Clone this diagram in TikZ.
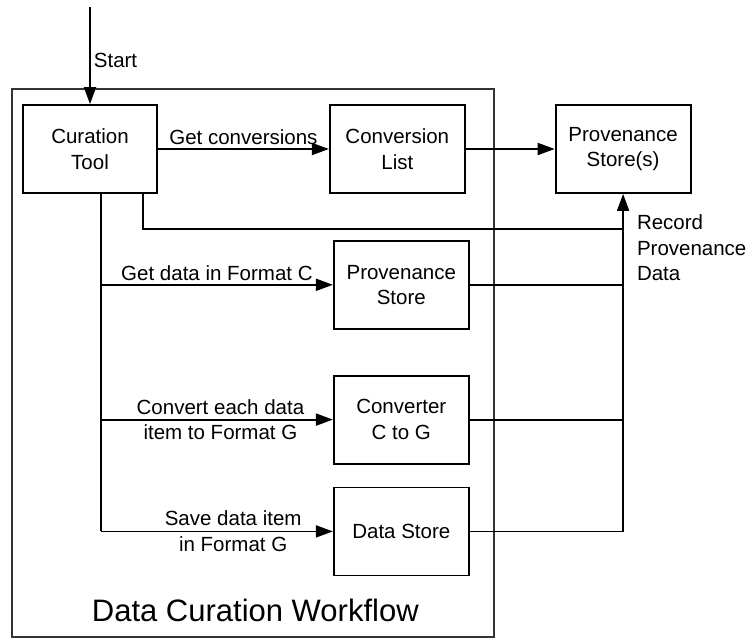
\documentclass[tikz,border=0pt]{standalone}
\usepackage{fontspec}
\setmainfont{Liberation Sans}
\usetikzlibrary{positioning, arrows.meta}

\begin{document}
\begin{tikzpicture}[x=1pt, y=1pt, line width=1.8pt, >={Triangle[length=17pt, width=12pt]},
    box/.style={draw, rectangle, minimum width=135pt, minimum height=88pt, align=center, font=\fontsize{20.5}{25.5}\selectfont},
    lbl/.style={font=\fontsize{20.5}{25.5}\selectfont, inner sep=3pt, align=center}]
    \useasboundingbox (0,0) rectangle (753,-639);

    % Define the outer workflow frame
    \draw[black!80] (12,-89) rectangle (494,-637);
    \node (title) [anchor=west, inner sep=0pt, font=\fontsize{31}{37}\selectfont] at (91,-610) {Data Curation Workflow};

    % Define the component nodes
    \node (tool) [box, minimum width=134pt] at (90,-149) {Curation\\Tool};  % Curation Tool
    \node (list) [box, right=171pt of tool] {Conversion\\List};
    \node (stores) [box, right=89pt of list] {Provenance\\Store(s)};
    \node (prov) [box, below=46pt of list, xshift=4pt] {Provenance\\Store};
    \node (conv) [box, below=45pt of prov] {Converter\\C to G};
    \node (data) [box, below=22pt of conv] {Data Store};

    % Define the branch points
    \coordinate (start) at (90,-7);
    \coordinate (split) at ([xshift=11pt]tool.south);
    \coordinate (rec) at ([xshift=53pt]tool.south);
    \coordinate (join) at (data.east -| stores.south);

    % Define arrows for the workflow steps
    \draw[->] (start) -- node[lbl, right, pos=0.55] {Start} (tool.north);
    \draw[->] (tool) -- node[lbl, above] {Get conversions} (list);
    \draw[->] (list) -- (stores);
    \draw (split) -- (split |- data.west);
    \draw[->] (split |- prov.west) -- node[lbl, above] {Get data in Format C} (prov.west);
    \draw[->] (split |- conv.west) -- node[lbl, pos=0.515] {Convert each data\\item to Format G} (conv.west);
    \draw[->] (split |- data.west) -- node[lbl, pos=0.57] {Save data item\\in Format G} (data.west);

    % Record provenance data
    \draw (rec) |- ([yshift=-35pt]stores.south);
    \draw (prov.east) -- (prov.east -| join);
    \draw (conv.east) -- (conv.east -| join);
    \draw[->] (data.east) -- (join) -- node[lbl, right=10pt, pos=0.84, align=left] {Record\\Provenance\\Data} (stores.south);
\end{tikzpicture}
\end{document}
